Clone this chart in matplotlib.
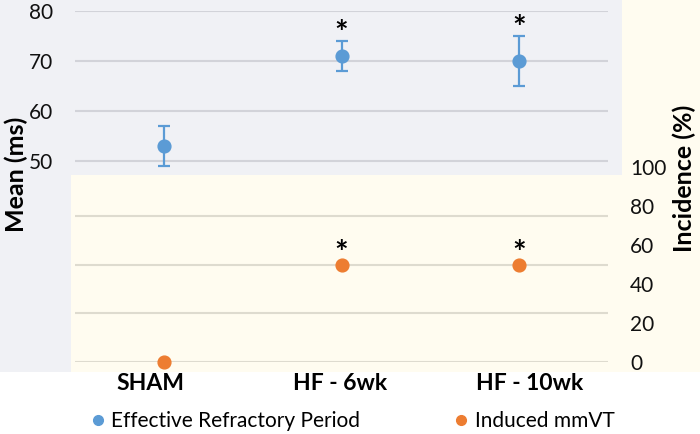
import matplotlib
matplotlib.use("Agg")
import matplotlib.pyplot as plt
from matplotlib.patches import Rectangle
from matplotlib.lines import Line2D

plt.rcParams['font.family'] = ['Lato', 'DejaVu Sans']

# data
groups = ["SHAM", "HF - 6wk", "HF - 10wk"]
erp_mean = [53, 71, 70]
erp_err = [4, 3, 5]
vt_incidence = [0, 50, 50]
significant = [False, True, True]
series_names = ["Effective Refractory Period", "Induced mmVT"]

blue = "#5B9BD5"
orange = "#ED7D31"
gray_bg = "#F0F1F5"
yellow_bg = "#FFFCF0"

W, H = 700, 434
fig = plt.figure(figsize=(W / 100, H / 100), dpi=100)


def box(x0, y0, x1, y1):
    # pixel box (top-left origin) -> figure fraction [l, b, w, h]
    return [x0 / W, 1 - y1 / H, (x1 - x0) / W, (y1 - y0) / H]


# backgrounds of the two stacked charts
for (x0, y0, x1, y1), col, z in [((0, 0, 622, 372), gray_bg, -3),
                                 ((71, 175, 700, 372), yellow_bg, -2),
                                 ((622, 0, 700, 372), yellow_bg, -2)]:
    l, b, w, h = box(x0, y0, x1, y1)
    fig.add_artist(Rectangle((l, b), w, h, transform=fig.transFigure,
                             facecolor=col, edgecolor="none", zorder=z))

xs = list(range(len(groups)))

# upper chart: ERP
ax1 = fig.add_axes(box(75, 11, 608, 171))
ax1.set_facecolor("none")
ax1.set_xlim(-0.5, 2.5)
ax1.set_ylim(48, 80)
ax1.set_yticks([50, 60, 70, 80])
ax1.yaxis.grid(True, color="#D2D3D9", lw=1.5)
ax1.set_axisbelow(True)
ax1.set_xticks([])
ax1.tick_params(axis="y", length=0, pad=16, labelsize=15, labelcolor="#111111")
for s in ax1.spines.values():
    s.set_visible(False)
ax1.errorbar(xs, erp_mean, yerr=erp_err, fmt="o", color=blue, ms=9.2,
             elinewidth=1.6, capsize=4.5, capthick=1.6, clip_on=False, zorder=3)
for x, m, e, sig in zip(xs, erp_mean, erp_err, significant):
    if sig:
        ax1.annotate("*", (x, m + e), xytext=(0, -6), textcoords="offset points",
                     ha="center", va="bottom", fontsize=23, fontweight="bold")

# lower chart: incidence
ax2 = fig.add_axes(box(75, 167, 608, 362))
ax2.set_facecolor("none")
ax2.set_xlim(-0.5, 2.5)
ax2.set_ylim(0, 100)
for g in [0, 25, 50, 75]:
    ax2.axhline(g, color="#DEDBCF", lw=1.5, zorder=1)
ax2.yaxis.tick_right()
ax2.set_yticks(range(0, 101, 20))
ax2.tick_params(axis="y", length=0, pad=16, labelsize=15, labelcolor="#111111")
ax2.set_xticks([])
for s in ax2.spines.values():
    s.set_visible(False)
ax2.plot(xs, vt_incidence, "o", color=orange, ms=9.2, clip_on=False, zorder=3)
for x, v, sig in zip(xs, vt_incidence, significant):
    if sig:
        ax2.annotate("*", (x, v), xytext=(0, -3), textcoords="offset points",
                     ha="center", va="bottom", fontsize=23, fontweight="bold")

# category axis of the overlay sits on a slightly wider plot area
ax3 = fig.add_axes(box(55, 340, 625, 362))
ax3.patch.set_visible(False)
ax3.set_xlim(-0.5, 2.5)
ax3.set_yticks([])
ax3.set_xticks(xs)
ax3.set_xticklabels(groups, fontsize=16.5, fontweight="bold")
ax3.tick_params(axis="x", length=0, pad=8)
for s in ax3.spines.values():
    s.set_visible(False)

fig.text(16 / W, 1 - 174 / H, "Mean (ms)", rotation=90, ha="center", va="center",
         fontsize=18, fontweight="bold")
fig.text(684 / W, 1 - 178 / H, "Incidence (%)", rotation=90, ha="center", va="center",
         fontsize=18, fontweight="bold")

handles = [Line2D([], [], ls="none", marker="o", color=c, ms=7) for c in (blue, orange)]
fig.legend(handles, series_names, loc="center", bbox_to_anchor=(0.505, 1 - 421 / H),
           ncol=2, frameon=False, fontsize=15, handlelength=0.5, handletextpad=0.4,
           columnspacing=4.6)

fig.savefig("out.png", dpi=100)
